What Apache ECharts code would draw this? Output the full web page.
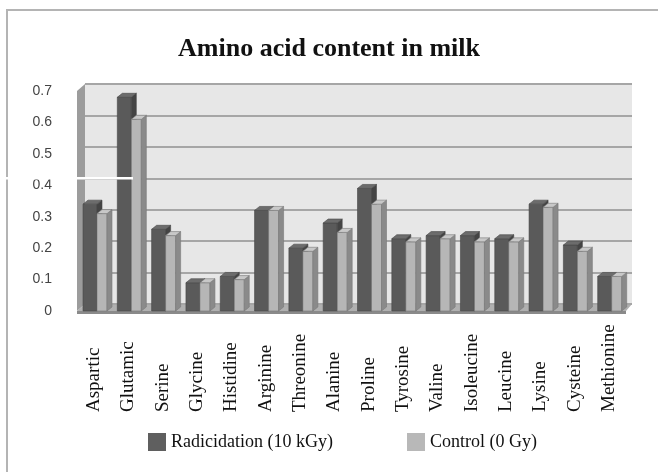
<!DOCTYPE html>
<html>
<head>
<meta charset="utf-8">
<script src="https://cdn.jsdelivr.net/npm/echarts@6/dist/echarts.min.js"></script>
<style>
html, body { margin: 0; padding: 0; background: #fff; }
#main { width: 658px; height: 472px; }
</style>
</head>
<body>
<div id="main"></div>
<script>
// data
let categories = ['Aspartic', 'Glutamic', 'Serine', 'Glycine', 'Histidine', 'Arginine', 'Threonine', 'Alanine',
    'Proline', 'Tyrosine', 'Valine', 'Isoleucine', 'Leucine', 'Lysine', 'Cysteine', 'Methionine'];
let radicidation = [0.34, 0.68, 0.26, 0.09, 0.11, 0.32, 0.20, 0.28, 0.39, 0.23, 0.24, 0.24, 0.23, 0.34, 0.21, 0.11];
let control = [0.31, 0.61, 0.24, 0.09, 0.10, 0.32, 0.19, 0.25, 0.34, 0.22, 0.23, 0.22, 0.22, 0.33, 0.19, 0.11];
let yMin = 0, yMax = 0.7, yStep = 0.1;
let seriesNames = ['Radicidation (10 kGy)', 'Control (0 Gy)'];

let chart = echarts.init(document.getElementById('main'));

// pseudo 3D bar: front face, right side, top
function bar3d(shift, w, colors) {
    return function(params, api) {
        let i = api.value(0), v = api.value(1);
        let base = api.coord([i, 0]);
        let top = api.coord([i, v]);
        let band = api.size([1, 0])[0];
        let x = base[0] - band / 2 + shift;
        let d = 5, h = 4;
        let y0 = base[1], y1 = top[1];
        return {
            type: 'group',
            children: [
                { type: 'rect', shape: { x: x, y: y1, width: w, height: y0 - y1 },
                  style: { fill: colors[0], stroke: colors[3], lineWidth: 0.6 } },
                { type: 'polygon', shape: { points: [[x + w, y1], [x + w + d, y1 - h], [x + w + d, y0 - h], [x + w, y0]] },
                  style: { fill: colors[1], stroke: colors[3], lineWidth: 0.6 } },
                { type: 'polygon', shape: { points: [[x, y1], [x + d, y1 - h], [x + w + d, y1 - h], [x + w, y1]] },
                  style: { fill: colors[2], stroke: colors[3], lineWidth: 0.6 } }
            ]
        };
    };
}

let legendText = { fontFamily: 'Liberation Serif', fontSize: 18, color: '#111' };

let option = {
    animation: false,
    backgroundColor: '#fff',
    title: {
        text: 'Amino acid content in milk',
        left: 'center',
        top: 31,
        textStyle: { fontFamily: 'Liberation Serif', fontWeight: 'bold', fontSize: 26, color: '#111' }
    },
    legend: [
        { data: [seriesNames[0]], left: 143, top: 428, itemWidth: 18, itemHeight: 18, itemGap: 4,
          icon: 'rect', textStyle: legendText },
        { data: [seriesNames[1]], left: 402, top: 428, itemWidth: 18, itemHeight: 18, itemGap: 4,
          icon: 'rect', textStyle: legendText }
    ],
    grid: [
        // back wall
        { left: 85, right: 26, top: 84, bottom: 168, show: true, backgroundColor: '#e7e7e7', borderWidth: 0 },
        // front plane
        { left: 77, right: 32, top: 91, bottom: 161 }
    ],
    xAxis: [
        { type: 'category', gridIndex: 0, data: categories, show: false },
        {
            type: 'category', gridIndex: 1, data: categories,
            axisLine: { show: false }, axisTick: { show: false },
            axisLabel: {
                rotate: 90, align: 'left', verticalAlign: 'middle', margin: 101, interval: 0,
                padding: [7, 0, 0, 0],
                fontFamily: 'Liberation Serif', fontSize: 19, color: '#111'
            }
        }
    ],
    yAxis: [
        {
            type: 'value', gridIndex: 0, min: yMin, max: yMax, interval: yStep,
            axisLabel: { show: false }, axisLine: { show: false }, axisTick: { show: false },
            splitLine: { lineStyle: { color: '#a6a6a6', width: 2 } }
        },
        {
            type: 'value', gridIndex: 1, min: yMin, max: yMax, interval: yStep,
            axisLine: { show: false }, axisTick: { show: false }, splitLine: { show: false },
            axisLabel: {
                margin: 25, fontFamily: 'Liberation Sans', fontSize: 14, color: '#444',
                formatter: v => String(Math.round(v * 10) / 10)
            }
        }
    ],
    graphic: [
        // outer border
        { type: 'rect', shape: { x: 7, y: 10, width: 700, height: 500 }, style: { fill: 'none', stroke: '#b4b4b4', lineWidth: 2 }, z: -10 },
        // left wall
        { type: 'polygon', shape: { points: [[77, 91], [85, 84], [85, 304], [77, 311]] }, style: { fill: '#9c9c9c' }, z: -5 },
        // floor
        { type: 'polygon', shape: { points: [[77, 311], [85, 304], [632, 304], [626, 311]] }, style: { fill: '#b0b0b0' }, z: -5 },
        { type: 'rect', shape: { x: 77, y: 311, width: 549, height: 3 }, style: { fill: '#8a8a8a' }, z: -5 },
        // white stray line in the scan
        { type: 'rect', shape: { x: 0, y: 177, width: 133, height: 2.5 }, style: { fill: '#fff' }, z: 100 }
    ],
    series: [
        {
            name: seriesNames[0], type: 'custom', xAxisIndex: 1, yAxisIndex: 1,
            itemStyle: { color: '#5f5f5f' },
            renderItem: bar3d(6, 14, ['#5a5a5a', '#444444', '#6c6c6c', '#474747']),
            data: radicidation.map((v, i) => [i, v])
        },
        {
            name: seriesNames[1], type: 'custom', xAxisIndex: 1, yAxisIndex: 1,
            itemStyle: { color: '#b8b8b8' },
            renderItem: bar3d(20, 10, ['#b6b6b6', '#8a8a8a', '#c8c8c8', '#787878']),
            data: control.map((v, i) => [i, v])
        }
    ]
};

chart.setOption(option);
</script>
</body>
</html>
